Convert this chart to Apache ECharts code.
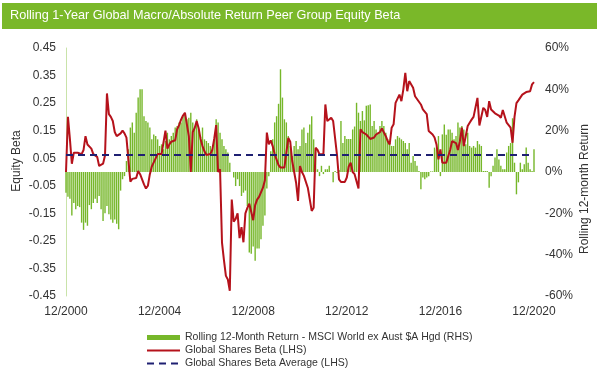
<!DOCTYPE html>
<html>
<head>
<meta charset="utf-8">
<script src="https://cdn.jsdelivr.net/npm/echarts@6/dist/echarts.min.js"></script>
<style>
html,body{margin:0;padding:0;background:#fff;}
#chart{width:599px;height:387px;}
</style>
</head>
<body>
<div id="chart"></div>
<script>
// ---- Data ----
const startMonth = 12, startYear = 2000, monthCount = 241;
const categories = [];
for (let i = 0; i < monthCount; i++) {
  const mm = ((startMonth - 1 + i) % 12) + 1;
  const yy = startYear + Math.floor((startMonth - 1 + i) / 12);
  categories.push(mm + '/' + yy);
}
const tickLabels = ['12/2000', '12/2004', '12/2008', '12/2012', '12/2016', '12/2020'];
const leftTicks = [-0.45, -0.35, -0.25, -0.15, -0.05, 0.05, 0.15, 0.25, 0.35, 0.45];

const betaValues = [
  0.00, 0.20, 0.12, 0.03, 0.07, 0.07, 0.07, 0.075, 0.065, 0.08,
  0.13, 0.10, 0.105, 0.085, 0.065, 0.07, 0.055, 0.022, 0.025, 0.03,
  0.06, 0.285, 0.21, 0.20, 0.185, 0.145, 0.13, 0.13, 0.14, 0.15,
  0.14, 0.125, 0.125, -0.035, -0.025, -0.025, -0.022, 0.004, -0.008, -0.005,
  -0.045, -0.06, -0.05, -0.008, 0.02, 0.035, 0.04, 0.065, 0.065, 0.065,
  0.07, 0.15, 0.085, 0.10, 0.11, 0.11, 0.115, 0.155, 0.17, 0.19,
  0.205, 0.215, 0.21, 0.13, 0.00, 0.145, 0.16, 0.185, 0.16, 0.12,
  0.094, 0.075, 0.062, 0.058, 0.065, 0.08, 0.12, 0.17, 0.00, 0.01,
  -0.256, -0.32, -0.377, -0.39, -0.431, -0.10, -0.18, -0.17, -0.15, -0.24,
  -0.20, -0.255, -0.15, -0.13, -0.115, -0.12, -0.175, -0.12, -0.10, -0.09,
  -0.085, -0.057, -0.03, 0.143, 0.10, 0.115, 0.094, 0.065, 0.045, 0.025,
  0.016, 0.015, 0.016, 0.02, 0.124, 0.11, 0.04, 0.04, -0.039, -0.105,
  0.022, 0.0, -0.014, -0.015, -0.057, -0.057, -0.141, -0.13, 0.088, 0.08,
  0.064, 0.064, 0.064, 0.245, 0.185, 0.185, 0.197, 0.185, 0.19, 0.06,
  -0.027, -0.036, -0.036, -0.036, -0.02, 0.02, 0.034, 0.0, -0.008, -0.01,
  -0.06, 0.155, 0.145, 0.14, 0.136, 0.13, 0.12, 0.118, 0.125, 0.136,
  0.14, 0.145, 0.158, 0.158, 0.13, 0.112, 0.10, 0.161, 0.173, 0.251,
  0.25, 0.281, 0.257, 0.30, 0.36, 0.293, 0.33, 0.336, 0.306, 0.275,
  0.269, 0.255, 0.245, 0.227, 0.225, 0.21, 0.149, 0.152, 0.136, 0.125,
  0.10, 0.046, 0.082, 0.034, 0.034, 0.034, 0.036, 0.08, 0.112, 0.11,
  0.105, 0.08, 0.112, 0.161, 0.094, 0.10, 0.167, 0.179, 0.19, 0.20,
  0.20, 0.269, 0.169, 0.17, 0.233, 0.225, 0.20, 0.257, 0.227, 0.22,
  0.213, 0.21, 0.205, 0.197, 0.225, 0.222, 0.179, 0.17, 0.161, 0.106,
  0.20, 0.25, 0.26, 0.263, 0.281, 0.287, 0.29, 0.29, 0.293, 0.318, 0.326
];

const returnValues = [
  -10, -12, -13, -21, -15, -18, -16.5, -17, -24.5, -28,
  -24.5, -26, -16, -18, -15, -13, -15, -11.6, -18, -23.7,
  -20, -16.5, -20.5, -23, -24.5, -23, -25, -27.7, -9, -3.5,
  -2, 5.3, 11, 21.5, 24, 19, 28.7, 36, 40, 40,
  27, 24.7, 24, 21.5, 15.8, 18.2, 17.4, 15.8, 12.6, 13.4,
  11, 15, 19, 15.8, 17.4, 19, 21.5, 22.3, 24, 24,
  27, 28, 25.5, 26.3, 28.7, 24, 21.5, 25.5, 20.6, 17,
  21.5, 15.8, 15, 14, 12.6, 11, 15.8, 25.5, 24, 19,
  15.8, 12.6, 11, 9.4, 4.5, 0, -2.7, -6.8, -3.5, -6.8,
  -11.6, -10, -9, -16.5, -39, -39.5, -36, -43, -37, -37,
  -32.6, -26, -21, -8, -2, 10, 15.8, 24, 27, 33,
  49.7, 36, 25.5, 24, 17.4, 12.6, 7.7, 12.6, 15, 11,
  12.6, 20.6, 21.5, 14, 19, 23, 27, 15.8, 11, 1.3,
  -2, 3, -1, 1.3, 1.3, 3, 0, -5, 0.5, -0.5,
  1, 24.7, 14, 17.4, 16, 16, 16, 20.6, 22, 33.5,
  28.7, 24.7, 29.5, 25, 32, 32.3, 32.7, 22.3, 24.7, 20.6,
  19, 22.3, 24.7, 22.3, 19, 15.8, 14, 12.6, 12.6, 15.8,
  17.4, 16.6, 15.8, 15, 14, 11, 14, 4.5, 7.7, 5.3,
  3, 0.5, -8.4, -2.7, -3.5, -2.7, -2, 0.3, 0.3, 11.8,
  11, 17.4, -2, 18.2, 23, 18, 20.6, 20.6, 19, 15.8,
  17.4, 23.9, 21.5, 22.3, 20.6, 13.4, 19, 12.6, 11.8, 12.6,
  11.8, 15, 13.4, 12.6, 0.5, 0.5, 0.5, -7.6, -2, 3,
  7, 11, 6, 3, 1.3, 1.3, 9.4, 12.6, 14, 26,
  4.5, -10.8, -5, 4.5, 1.3, 3.7, 11.8, 4.5, 1.3, 0.5, 11
];

const betaAverage = 0.062;
const averageValues = categories.map(() => betaAverage);

const seriesNames = [
  'Rolling 12-Month Return - MSCI World ex Aust $A Hgd (RHS)',
  'Global Shares Beta (LHS)',
  'Global Shares Beta Average (LHS)'
];

// ---- Chart ----
const FONT = 'Liberation Sans, Arial, Helvetica, sans-serif';
const chart = echarts.init(document.getElementById('chart'), null, {renderer: 'canvas'});
chart.setOption({
  animation: false,
  backgroundColor: '#ffffff',
  textStyle: {fontFamily: FONT},
  grid: {left: 66, right: 65, top: 48, bottom: 91, containLabel: false},
  graphic: [
    {type: 'rect', left: 2, top: 3, shape: {width: 595, height: 26}, style: {fill: '#7ab829'}, silent: true},
    {type: 'text', left: 10, top: 9, style: {text: 'Rolling 1-Year Global Macro/Absolute Return Peer Group Equity Beta', fill: '#ffffff', font: '12.7px ' + FONT}, silent: true},
    {type: 'text', x: 17, y: 161, rotation: Math.PI / 2, style: {text: 'Equity Beta', fill: '#333', font: '12px ' + FONT, align: 'center', verticalAlign: 'middle'}, silent: true},
    {type: 'text', x: 585, y: 189, rotation: Math.PI / 2, style: {text: 'Rolling 12-month Return', fill: '#333', font: '12px ' + FONT, align: 'center', verticalAlign: 'middle'}, silent: true}
  ],
  legend: {
    orient: 'vertical',
    left: 146,
    top: 332,
    padding: 0,
    itemWidth: 33,
    itemHeight: 5,
    itemGap: 2,
    textStyle: {fontSize: 10.5, color: '#333', fontFamily: FONT},
    data: [
      {name: seriesNames[0], icon: 'rect'},
      {name: seriesNames[1], itemStyle: {opacity: 0}},
      {name: seriesNames[2], itemStyle: {opacity: 0}}
    ]
  },
  xAxis: {
    type: 'category',
    data: categories,
    boundaryGap: false,
    axisLine: {show: false, onZero: false},
    axisTick: {show: false},
    splitLine: {show: false},
    axisLabel: {
      interval: (idx, val) => tickLabels.indexOf(val) >= 0,
      color: '#333', fontSize: 12, margin: 10, fontFamily: FONT
    }
  },
  yAxis: [
    {
      type: 'value', min: -0.45, max: 0.45,
      axisLine: {show: true, lineStyle: {color: '#c9e3a9', width: 1}},
      axisTick: {show: false},
      splitLine: {show: false},
      axisLabel: {customValues: leftTicks, formatter: v => v.toFixed(2), color: '#333', fontSize: 12, margin: 10, fontFamily: FONT}
    },
    {
      type: 'value', min: -60, max: 60, interval: 20,
      axisLine: {show: false},
      axisTick: {show: false},
      splitLine: {show: false},
      axisLabel: {formatter: v => v + '%', color: '#333', fontSize: 12, margin: 11, fontFamily: FONT}
    }
  ],
  series: [
    {
      name: seriesNames[0], type: 'bar', yAxisIndex: 1, data: returnValues,
      barWidth: 1.4, itemStyle: {color: '#76b72a'}
    },
    {
      name: seriesNames[1], type: 'line', yAxisIndex: 0, data: betaValues,
      symbol: 'none', lineStyle: {color: '#b5121b', width: 2}, itemStyle: {color: '#b5121b'}, z: 3
    },
    {
      name: seriesNames[2], type: 'line', yAxisIndex: 0, data: averageValues,
      symbol: 'none', lineStyle: {color: '#1f2072', width: 2, type: [7, 5]}, itemStyle: {color: '#1f2072'}, z: 4
    }
  ]
});
</script>
</body>
</html>
